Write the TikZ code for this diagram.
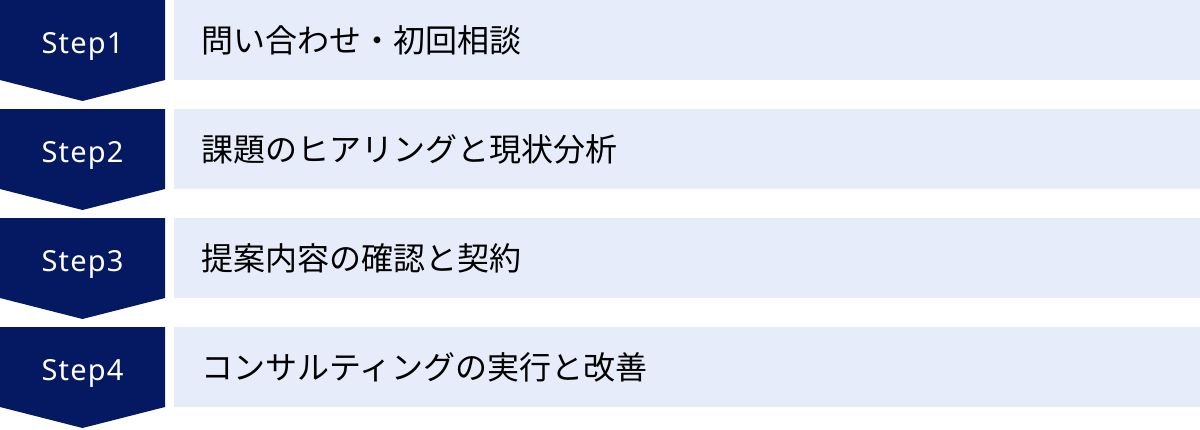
\documentclass[tikz,border=0pt]{standalone}
\usepackage{fontspec}
\setmainfont{Noto Sans}
\newfontfamily\jpfont{Noto Sans CJK JP}
\definecolor{navy}{HTML}{051962}
\definecolor{pale}{HTML}{E6ECF9}
\tikzset{
  stepshape/.style={fill=navy, draw=none},
  bar/.style={fill=pale, draw=none},
  steplabel/.style={text=white, inner sep=0pt, anchor=base, font=\fontsize{29pt}{35pt}\selectfont},
  barlabel/.style={text=black, inner sep=0pt, anchor=west, font=\jpfont\fontsize{32pt}{38pt}\selectfont}
}
\begin{document}
\begin{tikzpicture}[x=1pt,y=-1pt]
\useasboundingbox (0,0) rectangle (1200,429);
\foreach \i/\lab/\txt in {0/Step1/問い合わせ・初回相談, 1/Step2/課題のヒアリングと現状分析, 2/Step3/提案内容の確認と契約, 3/Step4/コンサルティングの実行と改善}{
  \pgfmathsetmacro{\t}{109*\i}
  \fill[stepshape] (0,\t) -- (165,\t) -- (165,\t+80) -- (82.5,\t+101) -- (0,\t+80) -- cycle;
  \fill[bar] (174,\t) rectangle (1200,\t+80);
  \node[steplabel] (s\i) at (82.5,\t+53.3) {\addfontfeature{LetterSpace=4}\lab};
  \node[barlabel] (b\i) at (201,\t+40) {\txt};
}
\end{tikzpicture}
\end{document}
